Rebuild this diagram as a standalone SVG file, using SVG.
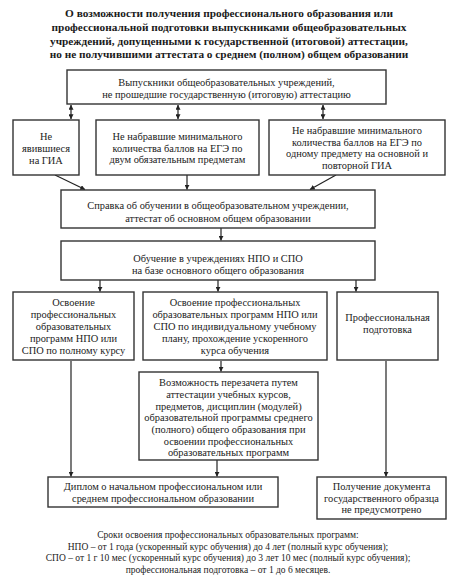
<svg xmlns="http://www.w3.org/2000/svg" width="455" height="581" viewBox="0 0 455 581">
<style>
.t{font-family:"Liberation Serif","Times New Roman",serif;font-size:10.4px;fill:#222;text-anchor:middle}
.h{font-family:"Liberation Serif","Times New Roman",serif;font-size:11.3px;font-weight:bold;fill:#1a1a1a;text-anchor:middle}
.f{font-family:"Liberation Serif","Times New Roman",serif;font-size:9.5px;fill:#222;text-anchor:middle}
.b{fill:#fff;stroke:#333;stroke-width:1.4}
.c{fill:none;stroke:#222;stroke-width:1.2}
</style>
<defs>
<marker id="ah" viewBox="0 0 8 8" refX="7.5" refY="4" markerWidth="5" markerHeight="5" orient="auto-start-reverse" markerUnits="userSpaceOnUse"><path d="M0,0 L8,4 L0,8 Z" fill="#222"/></marker>
</defs>
<rect width="455" height="581" fill="#fff"/>
<g id="title">
<text class="h" x="229" y="17">О возможности получения профессионального образования или</text>
<text class="h" x="229" y="31">профессиональной подготовки выпускниками общеобразовательных</text>
<text class="h" x="229" y="45">учреждений, допущенными к государственной (итоговой) аттестации,</text>
<text class="h" x="229" y="58">но не получившими аттестата о среднем (полном) общем образовании</text>
</g>
<g id="connectors">
<line class="c" x1="71" y1="105" x2="71" y2="119" marker-start="url(#ah)" marker-end="url(#ah)"/>
<line class="c" x1="178" y1="105" x2="178" y2="119" marker-start="url(#ah)" marker-end="url(#ah)"/>
<line class="c" x1="323" y1="105" x2="323" y2="119" marker-start="url(#ah)" marker-end="url(#ah)"/>
<line class="c" x1="55" y1="175" x2="85" y2="189.5" marker-end="url(#ah)"/>
<line class="c" x1="187" y1="175" x2="187" y2="189.5" marker-end="url(#ah)"/>
<line class="c" x1="336" y1="175" x2="310" y2="189.5" marker-end="url(#ah)"/>
<line class="c" x1="221" y1="228" x2="221" y2="240.5" marker-end="url(#ah)"/>
<line class="c" x1="100" y1="280" x2="100" y2="291.5" marker-end="url(#ah)"/>
<line class="c" x1="218" y1="280" x2="218" y2="291.5" marker-end="url(#ah)"/>
<line class="c" x1="356" y1="280" x2="356" y2="291.5" marker-end="url(#ah)"/>
<line class="c" x1="221" y1="361" x2="221" y2="371.5" marker-end="url(#ah)"/>
<line class="c" x1="71" y1="361" x2="71" y2="476.5" marker-end="url(#ah)"/>
<line class="c" x1="217" y1="460" x2="217" y2="476.5" marker-end="url(#ah)"/>
<line class="c" x1="386" y1="361" x2="386" y2="476.5" marker-end="url(#ah)"/>
</g>
<g id="n-graduates">
<rect class="b" x="67" y="70" width="319" height="34"/>
<text class="t" x="226.5" y="86">Выпускники общеобразовательных учреждений,</text>
<text class="t" x="226.5" y="98">не прошедшие государственную (итоговую) аттестацию</text>
</g>
<g id="n-absent">
<rect class="b" x="13" y="120" width="66" height="55"/>
<text class="t" x="46" y="140">Не</text>
<text class="t" x="46" y="152">явившиеся</text>
<text class="t" x="46" y="164">на ГИА</text>
</g>
<g id="n-two-subjects">
<rect class="b" x="96" y="120" width="163" height="55"/>
<text class="t" x="177.5" y="140">Не набравшие минимального</text>
<text class="t" x="177.5" y="151.5">количества баллов на ЕГЭ по</text>
<text class="t" x="177.5" y="163">двум обязательным предметам</text>
</g>
<g id="n-one-subject">
<rect class="b" x="269" y="120" width="176" height="55"/>
<text class="t" x="357" y="134">Не набравшие минимального</text>
<text class="t" x="357" y="145.5">количества баллов на ЕГЭ по</text>
<text class="t" x="357" y="157">одному предмету на основной и</text>
<text class="t" x="357" y="168.5">повторной ГИА</text>
</g>
<g id="n-certificate">
<rect class="b" x="61" y="190" width="314" height="38"/>
<text class="t" x="218" y="209">Справка об обучении в общеобразовательном учреждении,</text>
<text class="t" x="218" y="222">аттестат об основном общем  образовании</text>
</g>
<g id="n-training">
<rect class="b" x="61" y="241" width="314" height="39"/>
<text class="t" x="218" y="262">Обучение в учреждениях НПО и СПО</text>
<text class="t" x="218" y="274">на базе основного общего образования</text>
</g>
<g id="n-full-course">
<rect class="b" x="13" y="292" width="121" height="68"/>
<text class="t" x="73.5" y="306">Освоение</text>
<text class="t" x="73.5" y="318">профессиональных</text>
<text class="t" x="73.5" y="330">образовательных</text>
<text class="t" x="73.5" y="342">программ НПО или</text>
<text class="t" x="73.5" y="354">СПО по полному курсу</text>
</g>
<g id="n-individual">
<rect class="b" x="143" y="292" width="184" height="68"/>
<text class="t" x="235" y="306">Освоение профессиональных</text>
<text class="t" x="235" y="318">образовательных программ НПО или</text>
<text class="t" x="235" y="330">СПО по индивидуальному учебному</text>
<text class="t" x="235" y="342">плану, прохождение ускоренного</text>
<text class="t" x="235" y="354">курса обучения</text>
</g>
<g id="n-prof-training">
<rect class="b" x="337" y="292" width="101" height="68"/>
<text class="t" x="387.5" y="321">Профессиональная</text>
<text class="t" x="387.5" y="333">подготовка</text>
</g>
<g id="n-recredit">
<rect class="b" x="139" y="372" width="179" height="88"/>
<text class="t" x="228.5" y="386">Возможность перезачета путем</text>
<text class="t" x="228.5" y="397.8">аттестации учебных курсов,</text>
<text class="t" x="228.5" y="409.6">предметов, дисциплин (модулей)</text>
<text class="t" x="228.5" y="421.4">образовательной программы среднего</text>
<text class="t" x="228.5" y="433.2">(полного) общего образования при</text>
<text class="t" x="228.5" y="445">освоении профессиональных</text>
<text class="t" x="228.5" y="456.3">образовательных программ</text>
</g>
<g id="n-diploma">
<rect class="b" x="48" y="477" width="230" height="30"/>
<text class="t" x="163" y="490">Диплом о начальном профессиональном или</text>
<text class="t" x="163" y="501.5">среднем профессиональном образовании</text>
</g>
<g id="n-no-document">
<rect class="b" x="317" y="477" width="129" height="42"/>
<text class="t" x="381.5" y="490">Получение документа</text>
<text class="t" x="381.5" y="501.5">государственного образца</text>
<text class="t" x="381.5" y="513">не предусмотрено</text>
</g>
<g id="footer">
<text class="f" x="228" y="538">Сроки освоения профессиональных образовательных программ:</text>
<text class="f" x="228" y="550">НПО – от 1 года (ускоренный курс обучения) до 4 лет (полный курс обучения);</text>
<text class="f" x="228" y="561">СПО – от 1 г 10 мес (ускоренный курс обучения) до 3 лет 10 мес (полный курс обучения);</text>
<text class="f" x="228" y="573">профессиональная подготовка – от 1 до 6 месяцев.</text>
</g>
</svg>
